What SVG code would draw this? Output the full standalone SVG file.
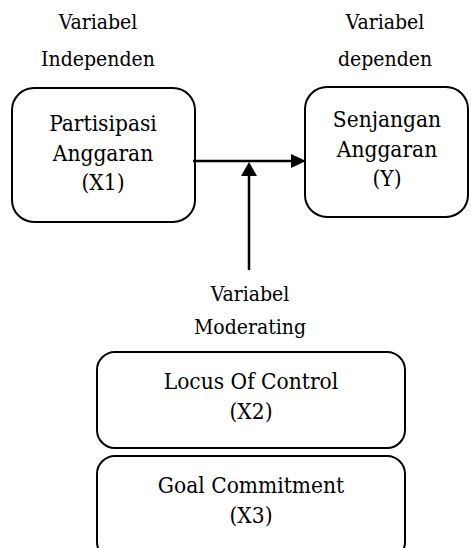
<svg xmlns="http://www.w3.org/2000/svg" width="471" height="548" viewBox="0 0 471 548">
<style>
.box{fill:#fff;stroke:#000;stroke-width:2}
.lbl{font-family:'DejaVu Serif Condensed','DejaVu Serif',serif;font-stretch:condensed;font-size:21px;fill:#000;text-anchor:middle}
.t{font-family:'DejaVu Serif Condensed','DejaVu Serif',serif;font-stretch:condensed;font-size:22.5px;fill:#000;text-anchor:middle}
.ln{stroke:#000;stroke-width:2.5;fill:none}
</style>
<rect width="471" height="548" fill="#fff"/>
<g id="label-independen">
<text class="lbl" x="98" y="29">Variabel</text>
<text class="lbl" x="98" y="66">Independen</text>
</g>
<g id="label-dependen">
<text class="lbl" x="385" y="29">Variabel</text>
<text class="lbl" x="385" y="66">dependen</text>
</g>
<g id="label-moderating">
<text class="lbl" x="250" y="301">Variabel</text>
<text class="lbl" x="250" y="334">Moderating</text>
</g>
<g id="node-x1">
<rect class="box" x="12" y="88" width="183" height="134" rx="22"/>
<text class="t" x="103" y="131">Partisipasi</text>
<text class="t" x="103" y="161">Anggaran</text>
<text class="t" x="103" y="190">(X1)</text>
</g>
<g id="node-y">
<rect class="box" x="305" y="87" width="163" height="130" rx="22"/>
<text class="t" x="387" y="127">Senjangan</text>
<text class="t" x="387" y="157">Anggaran</text>
<text class="t" x="387" y="186">(Y)</text>
</g>
<g id="node-x2">
<rect class="box" x="97" y="352" width="308" height="96" rx="18"/>
<text class="t" x="251" y="389">Locus Of Control</text>
<text class="t" x="251" y="419">(X2)</text>
</g>
<g id="node-x3">
<rect class="box" x="97" y="456" width="308" height="104" rx="18"/>
<text class="t" x="251" y="493">Goal Commitment</text>
<text class="t" x="251" y="523">(X3)</text>
</g>
<g id="connectors">
<line x1="193" y1="161" x2="292" y2="161" class="ln"/>
<path d="M291,154 L306,161 L291,168 Z" fill="#000"/>
<line x1="249" y1="270" x2="249" y2="175" class="ln"/>
<path d="M241,176 L249,162 L257,176 Z" fill="#000"/>
</g>
</svg>
